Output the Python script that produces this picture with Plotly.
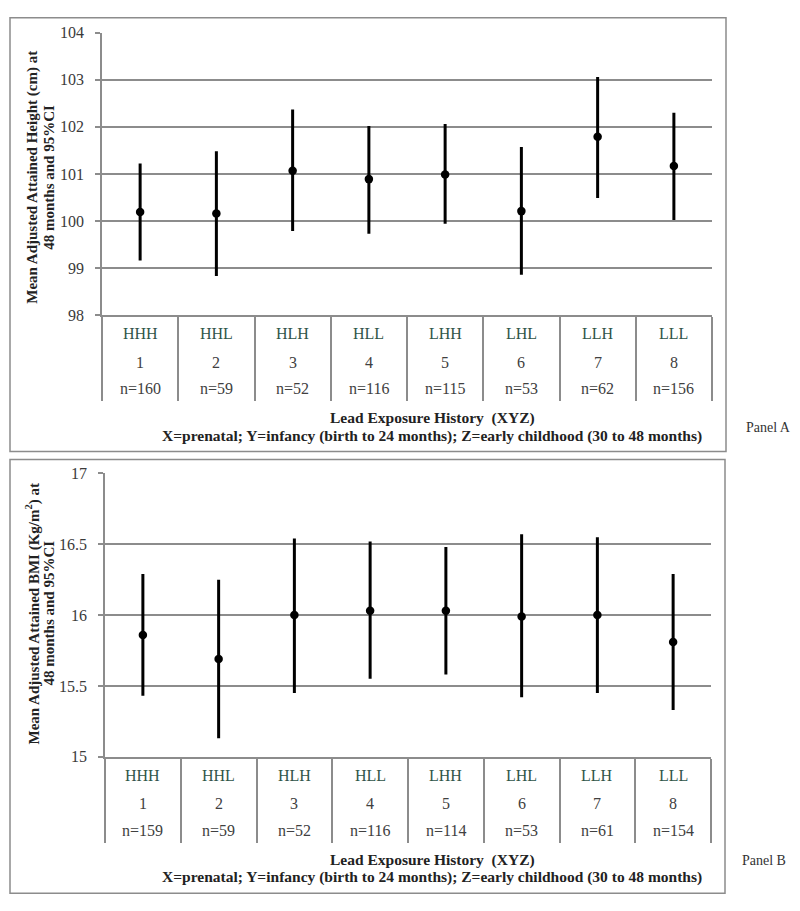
import plotly.graph_objects as go

W, H = 800, 911

codes = ["HHH", "HHL", "HLH", "HLL", "LHH", "LHL", "LLH", "LLL"]
groups = ["1", "2", "3", "4", "5", "6", "7", "8"]

n_height = [160, 59, 52, 116, 115, 53, 62, 156]
height_mean = [100.19, 100.16, 101.07, 100.89, 100.99, 100.21, 101.79, 101.17]
height_low = [99.16, 98.83, 99.79, 99.73, 99.94, 98.86, 100.49, 100.02]
height_high = [101.22, 101.48, 102.37, 102.02, 102.06, 101.57, 103.06, 102.30]

n_bmi = [159, 59, 52, 116, 114, 53, 61, 154]
bmi_mean = [15.86, 15.69, 16.00, 16.03, 16.03, 15.99, 16.00, 15.81]
bmi_low = [15.43, 15.13, 15.45, 15.55, 15.58, 15.42, 15.45, 15.33]
bmi_high = [16.29, 16.25, 16.54, 16.52, 16.48, 16.57, 16.55, 16.29]

x_title_1 = "Lead Exposure History  (XYZ)"
x_title_2 = "X=prenatal; Y=infancy (birth to 24 months); Z=early childhood (30 to 48 months)"

SERIF = "Liberation Serif, Times New Roman, serif"
GRID = "#8c8c8c"


def py(p):
    return 1 - p / H


def px(p):
    return p / W


xs = list(range(1, 9))
fig = go.Figure()


def add_series(mean, low, high, xa, ya):
    fig.add_trace(go.Scatter(
        x=xs, y=mean, mode="markers", xaxis=xa, yaxis=ya,
        marker=dict(color="black", size=8.5),
        error_y=dict(type="data", symmetric=False,
                     array=[h - m for h, m in zip(high, mean)],
                     arrayminus=[m - l for m, l in zip(mean, low)],
                     color="black", thickness=3, width=0),
        showlegend=False, hoverinfo="skip"))


add_series(height_mean, height_low, height_high, "x", "y")
add_series(bmi_mean, bmi_low, bmi_high, "x2", "y2")

xaxis_common = dict(
    range=[0.5, 8.5], tickvals=[i + 0.5 for i in range(0, 9)],
    showticklabels=False, ticks="outside", ticklen=84, tickwidth=1.5,
    tickcolor=GRID, showgrid=False, zeroline=False,
    showline=True, linecolor=GRID, linewidth=1.5, fixedrange=True)

yaxis_common = dict(
    showgrid=True, gridcolor=GRID, gridwidth=1.5, zeroline=False,
    showline=True, linecolor=GRID, linewidth=1.5, ticks="outside",
    ticklen=5, tickwidth=1.5, tickcolor=GRID, ticklabelstandoff=8,
    tickfont=dict(family=SERIF, size=16, color="#3a3a3a"), fixedrange=True)

fig.update_layout(
    width=W, height=H, margin=dict(l=0, r=0, t=0, b=0),
    paper_bgcolor="white", plot_bgcolor="white",
    xaxis=dict(domain=[px(102), px(712)], anchor="y", **xaxis_common),
    yaxis=dict(domain=[py(313), py(25)], anchor="x", range=[98, 104.004],
               tickvals=[98, 99, 100, 101, 102, 103, 104], **yaxis_common),
    xaxis2=dict(domain=[px(105), px(711)], anchor="y2", **xaxis_common),
    yaxis2=dict(domain=[py(763), py(474)], anchor="x2", range=[15, 17.0015],
                tickvals=[15, 15.5, 16, 16.5, 17], **yaxis_common),
)

ann = []
for xa, ns, rows in (("x", n_height, (332, 361, 388)), ("x2", n_bmi, (782, 811, 838))):
    for i in range(8):
        ann.append(dict(x=xs[i], xref=xa, y=py(rows[0]), yref="paper",
                        text=codes[i], showarrow=False, yanchor="middle",
                        font=dict(family=SERIF, size=16, color="#2f5548")))
        ann.append(dict(x=xs[i], xref=xa, y=py(rows[1]), yref="paper",
                        text=groups[i], showarrow=False, yanchor="middle",
                        font=dict(family=SERIF, size=16, color="#404040")))
        ann.append(dict(x=xs[i], xref=xa, y=py(rows[2]), yref="paper",
                        text="n=" + str(ns[i]), showarrow=False, yanchor="middle",
                        font=dict(family=SERIF, size=16, color="#404040")))

bold = dict(family=SERIF, size=15.5, color="#222222")
ybold = dict(family=SERIF, size=15, color="#222222")
# x titles
for l1, l2 in ((418, 436), (868, 886)):
    ann.append(dict(x=px(432), y=py(l1), xref="paper", yref="paper",
                    text="<b>" + x_title_1 + "</b>", showarrow=False,
                    yanchor="middle", font=bold))
    ann.append(dict(x=px(432), y=py(l2), xref="paper", yref="paper",
                    text="<b>" + x_title_2 + "</b>", showarrow=False,
                    yanchor="middle", font=bold))

# y titles (two lines each)
ytitles = [
    (173, "Mean Adjusted Attained Height (cm) at", "48 months and 95%CI"),
    (617, "Mean Adjusted Attained BMI (Kg/m<sup>2</sup>) at", "48 months and 95%CI"),
]
for yc, t1, t2 in ytitles:
    ann.append(dict(x=px(33), y=py(yc), xref="paper", yref="paper",
                    text="<b>" + t1 + "</b>", textangle=-90, showarrow=False,
                    xanchor="center", yanchor="middle", font=ybold))
    ann.append(dict(x=px(49), y=py(yc), xref="paper", yref="paper",
                    text="<b>" + t2 + "</b>", textangle=-90, showarrow=False,
                    xanchor="center", yanchor="middle", font=ybold))

# panel labels
ann.append(dict(x=px(744), y=py(427), xref="paper", yref="paper", text="Panel A",
                showarrow=False, xanchor="left", yanchor="middle",
                font=dict(family=SERIF, size=14, color="#333333")))
ann.append(dict(x=px(740), y=py(869), xref="paper", yref="paper", text="Panel B",
                showarrow=False, xanchor="left", yanchor="middle",
                font=dict(family=SERIF, size=14, color="#333333")))

fig.update_layout(annotations=ann)

# outer boxes
shapes = [
    dict(type="rect", xref="paper", yref="paper", x0=px(10), x1=px(726),
         y0=py(452), y1=py(10), line=dict(color="#8c8c8c", width=1.5)),
    dict(type="rect", xref="paper", yref="paper", x0=px(10), x1=px(725),
         y0=py(902), y1=py(460), line=dict(color="#8c8c8c", width=1.5)),
]
fig.update_layout(shapes=shapes)

fig.write_html("out.html", config={"displayModeBar": False},
               post_script="document.body.style.margin='0';document.body.style.overflow='hidden';")
